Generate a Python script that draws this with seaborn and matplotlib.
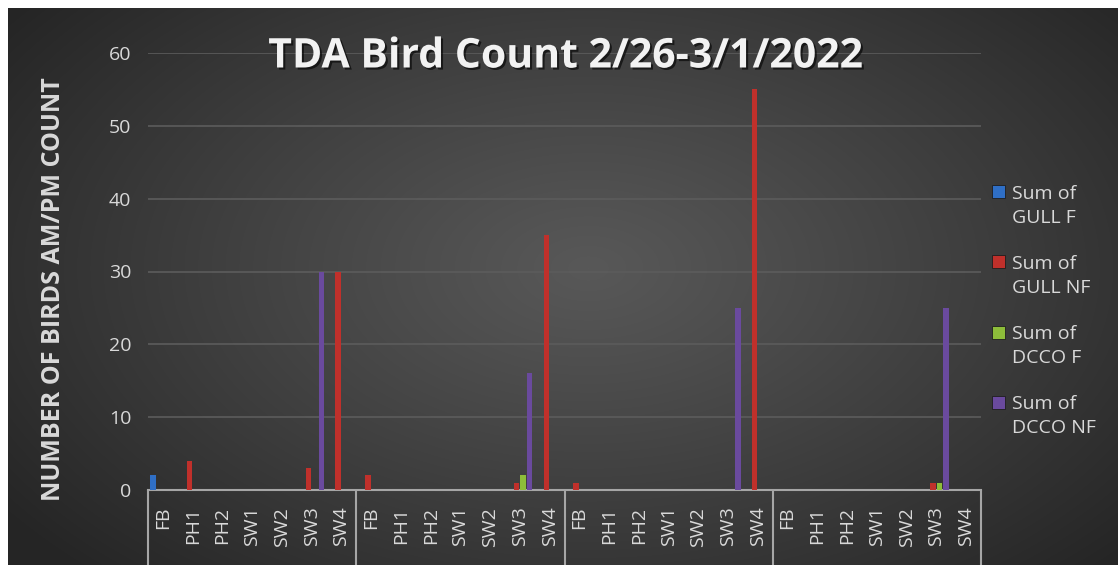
import numpy as np
import pandas as pd
import matplotlib
matplotlib.use("Agg")
import matplotlib.pyplot as plt
import matplotlib.patheffects as pe
import matplotlib.transforms as mtransforms
from matplotlib.patches import Rectangle
import seaborn as sns

# ---------------- data ----------------
categories = ["FB", "PH1", "PH2", "SW1", "SW2", "SW3", "SW4"]
groups = ["G1", "G2", "G3", "G4"]
series = ["Sum of\nGULL F", "Sum of\nGULL NF", "Sum of\nDCCO F", "Sum of\nDCCO NF"]
#            FB PH1 PH2 SW1 SW2 SW3 SW4
gull_f  = [2, 0, 0, 0, 0, 0, 0,
           0, 0, 0, 0, 0, 0, 0,
           0, 0, 0, 0, 0, 0, 0,
           0, 0, 0, 0, 0, 0, 0]
gull_nf = [0, 4, 0, 0, 0, 3, 30,
           2, 0, 0, 0, 0, 1, 35,
           1, 0, 0, 0, 0, 0, 55,
           0, 0, 0, 0, 0, 1, 0]
dcco_f  = [0, 0, 0, 0, 0, 0, 0,
           0, 0, 0, 0, 0, 2, 0,
           0, 0, 0, 0, 0, 0, 0,
           0, 0, 0, 0, 0, 1, 0]
dcco_nf = [0, 0, 0, 0, 0, 30, 0,
           0, 0, 0, 0, 0, 16, 0,
           0, 0, 0, 0, 0, 25, 0,
           0, 0, 0, 0, 0, 25, 0]
y_ticks = [0, 10, 20, 30, 40, 50, 60]
title = "TDA Bird Count 2/26-3/1/2022"
y_label = "NUMBER OF BIRDS AM/PM COUNT"
colors = ["#2f6fc6", "#c0302b", "#8dbd3a", "#6a4a9e"]

# ---------------- long-form table ----------------
slots = [f"{g}|{c}" for g in groups for c in categories]
values = [gull_f, gull_nf, dcco_f, dcco_nf]
rows = []
for s_name, vals in zip(series, values):
    for slot, v in zip(slots, vals):
        rows.append({"slot": slot, "series": s_name, "count": v})
df = pd.DataFrame(rows)

# ---------------- figure ----------------
W, H = 1118, 565
sns.set_theme(style="dark")
plt.rcParams["font.family"] = ["Open Sans", "DejaVu Sans"]
fig = plt.figure(figsize=(W / 100, H / 100), dpi=100, facecolor="white")

# radial dark gradient background (white strip on top/left)
bg = fig.add_axes([8 / W, 0, 1 - 8 / W, 1 - 8 / H], zorder=-10)
bw, bh = W - 8, H - 8
xx, yy = np.meshgrid(np.arange(bw), np.arange(bh))
r = np.sqrt(((xx - 580) / 720.0) ** 2 + ((yy - 260) / 430.0) ** 2)
r = np.clip(r, 0, 1) ** 1.1
c_in, c_out = 0x58 / 255, 0x25 / 255
shade = c_in + (c_out - c_in) * r
img = np.dstack([shade, shade, shade])
bg.imshow(img, aspect="auto", extent=(0, 1, 0, 1), origin="upper", interpolation="bilinear")
bg.set_axis_off()

ax_left, ax_right = 148, 981
y0_px, y60_px = 490, 53
ax = fig.add_axes([ax_left / W, 1 - y0_px / H, (ax_right - ax_left) / W, (y0_px - y60_px) / H])
ax.set_facecolor("none")

sns.barplot(data=df, x="slot", y="count", hue="series", order=slots, hue_order=series,
            palette=colors, width=0.88, gap=0.15, saturation=1, linewidth=0,
            legend=False, ax=ax, zorder=3)

ax.set_xlim(-0.5, len(slots) - 0.5)
ax.set_ylim(y_ticks[0], y_ticks[-1])
ax.set_yticks(y_ticks)
ax.set_yticklabels([str(t) for t in y_ticks])
ax.set_xticks(range(len(slots)))
ax.set_xticklabels(categories * len(groups), rotation=90)
ax.set_xlabel("")
ax.set_ylabel("")

ax.grid(axis="y", color="#5c5c5c", linewidth=1.2, zorder=0)
ax.grid(axis="x", visible=False)
for side in ["top", "right", "left"]:
    ax.spines[side].set_visible(False)
ax.spines["bottom"].set_color("#a6a6a6")
ax.spines["bottom"].set_linewidth(1.5)
ax.tick_params(axis="x", length=0, pad=12, labelsize=14, labelcolor="#d9d9d9")
ax.tick_params(axis="y", length=0, pad=12, labelsize=14, labelcolor="#d9d9d9")

# group divider lines below the axis
trans = mtransforms.blended_transform_factory(ax.transData, ax.transAxes)
for k in range(len(groups) + 1):
    xb = k * len(categories) - 0.5
    ax.plot([xb, xb], [0, -0.3], transform=trans, color="#a6a6a6", lw=1.5,
            clip_on=False, zorder=5)

# title
fig.text(566 / W, 1 - 57 / H, title, ha="center", va="center", fontsize=29.5,
         fontweight="bold", color="#f2f2f2",
         path_effects=[pe.withSimplePatchShadow(offset=(1.5, -1.5), shadow_rgbFace="black", alpha=0.6)])

# y label
fig.text(54 / W, 1 - 289 / H, y_label, rotation=90, ha="center", va="center",
         fontsize=18, fontweight="bold", color="#d9d9d9")

# legend (manual, markers aligned with first line)
for i, (name, col) in enumerate(zip(series, colors)):
    yc = 192 + 70 * i
    fig.patches.append(Rectangle((992 / W, 1 - (yc + 6.5) / H), 13 / W, 13 / H,
                                 transform=fig.transFigure, facecolor=col,
                                 edgecolor="#1e1e1e", linewidth=0.6))
    fig.text(1012 / W, 1 - (yc + 14) / H, name, ha="left", va="center",
             fontsize=14, color="#d9d9d9", linespacing=1.45)

fig.savefig("out.png", dpi=100, facecolor=fig.get_facecolor())
